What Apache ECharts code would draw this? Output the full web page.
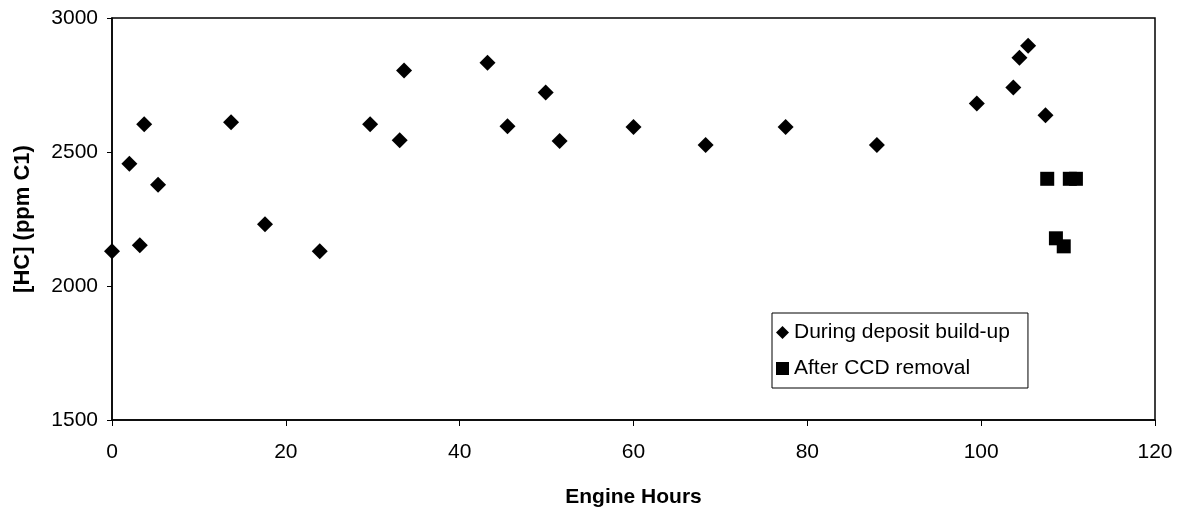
<!DOCTYPE html>
<html>
<head>
<meta charset="utf-8">
<script src="https://cdn.jsdelivr.net/npm/echarts@6/dist/echarts.min.js"></script>
<style>html,body{margin:0;padding:0;background:#fff}#c{width:1180px;height:513px}</style>
</head>
<body>
<div id="c"></div>
<script>
const buildupHours = [0, 2.0, 3.2, 3.7, 5.3, 13.7, 17.6, 23.9, 29.7, 33.1, 33.6, 43.2, 45.5, 49.9, 51.5, 60.0, 68.3, 77.5, 88.0, 99.5, 103.7, 104.4, 105.4, 107.4];
const buildupHC = [2130, 2456, 2152, 2604, 2378, 2611, 2230, 2130, 2604, 2544, 2804, 2833, 2596, 2722, 2541, 2593, 2526, 2593, 2526, 2681, 2741, 2852, 2896, 2637];
const removalHours = [107.6, 108.6, 109.5, 110.2, 110.9];
const removalHC = [2400, 2178, 2148, 2400, 2400];
const seriesNames = ['During deposit build-up', 'After CCD removal'];

const chart = echarts.init(document.getElementById('c'));
const font = 'Liberation Sans, Arial, sans-serif';
chart.setOption({
  animation: false,
  grid: {left: 112, right: 25, top: 18, bottom: 89, show: true, borderColor: '#000', borderWidth: 1.5},
  xAxis: {
    type: 'value', min: 0, max: 120, interval: 20,
    name: 'Engine Hours', nameLocation: 'middle', nameGap: 67,
    nameTextStyle: {fontFamily: font, fontSize: 21, fontWeight: 'bold', color: '#000'},
    axisLine: {show: true, lineStyle: {color: '#000', width: 1.5}},
    axisTick: {show: true, inside: false, length: 6, lineStyle: {color: '#000'}},
    axisLabel: {fontFamily: font, fontSize: 21, color: '#000', margin: 22},
    splitLine: {show: false}
  },
  yAxis: {
    type: 'value', min: 1500, max: 3000, interval: 500,
    name: '[HC] (ppm C1)', nameLocation: 'middle', nameGap: 78,
    nameTextStyle: {fontFamily: font, fontSize: 22, fontWeight: 'bold', color: '#000'},
    axisLine: {show: true, lineStyle: {color: '#000', width: 1.5}},
    axisTick: {show: true, inside: false, length: 5, lineStyle: {color: '#000'}},
    axisLabel: {fontFamily: font, fontSize: 21, color: '#000', margin: 14, formatter: v => String(v)},
    splitLine: {show: false}
  },
  legend: {
    left: 772, top: 313, orient: 'vertical',
    backgroundColor: '#fff', borderColor: '#000', borderWidth: 1,
    padding: [9, 18, 9, 4], itemGap: 15, itemWidth: 13, itemHeight: 13,
    textStyle: {fontFamily: font, fontSize: 21, color: '#000'},
    data: [
      {name: seriesNames[0], icon: 'diamond'},
      {name: seriesNames[1], icon: 'rect'}
    ]
  },
  series: [
    {
      name: seriesNames[0], type: 'scatter', symbol: 'diamond', symbolSize: 16,
      itemStyle: {color: '#000', opacity: 1},
      data: buildupHours.map((h, i) => [h, buildupHC[i]])
    },
    {
      name: seriesNames[1], type: 'scatter', symbol: 'rect', symbolSize: 14,
      itemStyle: {color: '#000', opacity: 1},
      data: removalHours.map((h, i) => [h, removalHC[i]])
    }
  ]
});
</script>
</body>
</html>
